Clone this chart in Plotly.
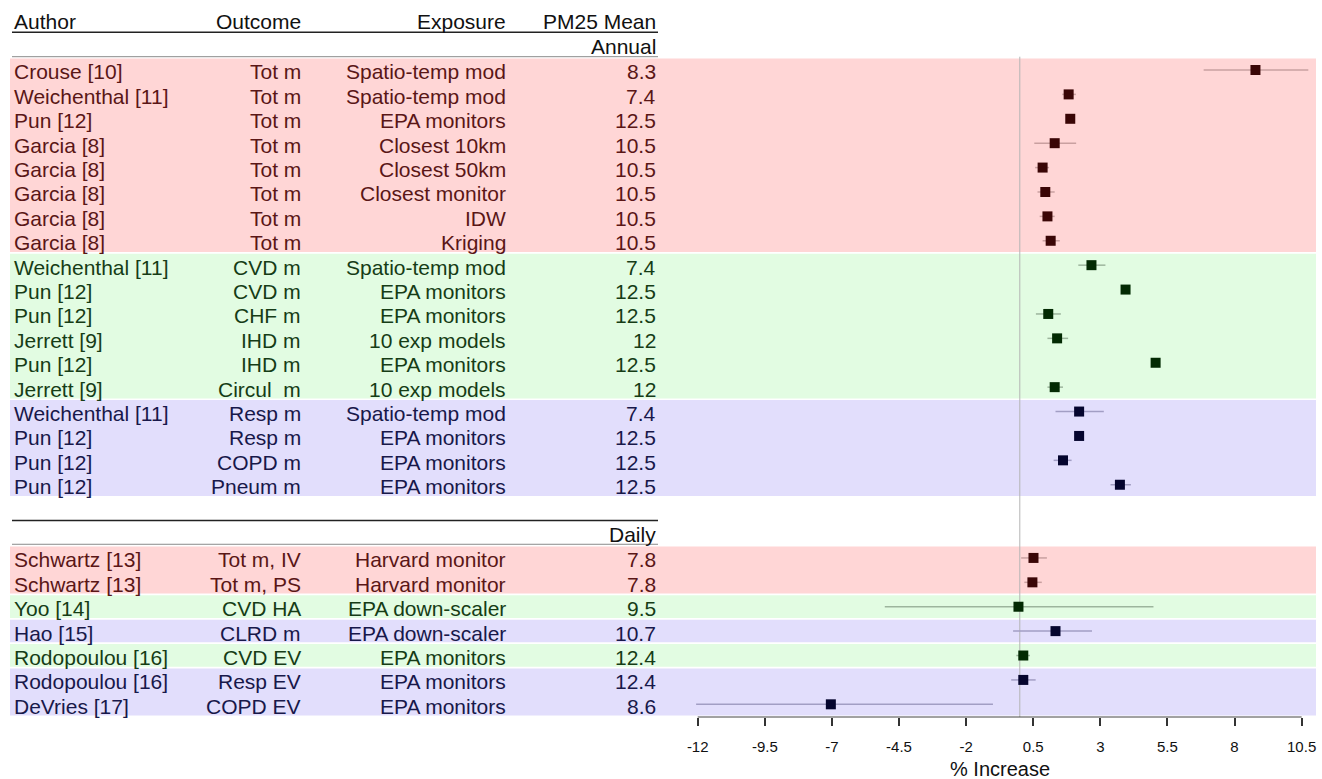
import plotly.graph_objects as go

# ---------------- data ----------------
authors = ["Crouse [10]", "Weichenthal [11]", "Pun [12]", "Garcia [8]", "Garcia [8]", "Garcia [8]",
           "Garcia [8]", "Garcia [8]", "Weichenthal [11]", "Pun [12]", "Pun [12]", "Jerrett [9]",
           "Pun [12]", "Jerrett [9]", "Weichenthal [11]", "Pun [12]", "Pun [12]", "Pun [12]",
           "Schwartz [13]", "Schwartz [13]", "Yoo [14]", "Hao [15]", "Rodopoulou [16]",
           "Rodopoulou [16]", "DeVries [17]"]
outcomes = ["Tot m", "Tot m", "Tot m", "Tot m", "Tot m", "Tot m", "Tot m", "Tot m",
            "CVD m", "CVD m", "CHF m", "IHD m", "IHD m", "Circul\u00a0 m",
            "Resp m", "Resp m", "COPD m", "Pneum m",
            "Tot m, IV", "Tot m, PS", "CVD HA", "CLRD m", "CVD EV", "Resp EV", "COPD EV"]
exposures = ["Spatio-temp mod", "Spatio-temp mod", "EPA monitors", "Closest 10km", "Closest 50km",
             "Closest monitor", "IDW", "Kriging", "Spatio-temp mod", "EPA monitors", "EPA monitors",
             "10 exp models", "EPA monitors", "10 exp models", "Spatio-temp mod", "EPA monitors",
             "EPA monitors", "EPA monitors", "Harvard monitor", "Harvard monitor",
             "EPA down-scaler", "EPA down-scaler", "EPA monitors", "EPA monitors", "EPA monitors"]
pm_means = ["8.3", "7.4", "12.5", "10.5", "10.5", "10.5", "10.5", "10.5", "7.4", "12.5", "12.5",
            "12", "12.5", "12", "7.4", "12.5", "12.5", "12.5", "7.8", "7.8", "9.5", "10.7",
            "12.4", "12.4", "8.6"]
groups = ["tot"] * 8 + ["cvd"] * 6 + ["resp"] * 4 + ["tot", "tot", "cvd", "resp", "cvd", "resp", "resp"]
periods = ["Annual"] * 18 + ["Daily"] * 7
estimate = [8.78, 1.82, 1.88, 1.30, 0.85, 0.95, 1.03, 1.15, 2.67, 3.94, 1.06, 1.39, 5.06, 1.30,
            2.21, 2.21, 1.61, 3.73, 0.51, 0.47, -0.05, 1.33, 0.13, 0.13, -7.04]
ci_low = [6.85, 1.58, 1.77, 0.54, 0.57, 0.66, 0.74, 0.85, 2.18, 3.85, 0.60, 1.03, 4.98, 1.03,
          1.33, 2.10, 1.26, 3.38, 0.05, 0.17, -5.03, -0.25, -0.13, -0.32, -12.06]
ci_high = [10.75, 2.09, 2.01, 2.10, 1.09, 1.30, 1.30, 1.49, 3.19, 4.05, 1.53, 1.80, 5.15, 1.61,
           3.13, 2.32, 1.93, 4.14, 1.01, 0.82, 4.98, 2.69, 0.38, 0.59, -1.00]
tick_values = [-12, -9.5, -7, -4.5, -2, 0.5, 3, 5.5, 8, 10.5]
tick_labels = ["-12", "-9.5", "-7", "-4.5", "-2", "0.5", "3", "5.5", "8", "10.5"]
headers = ["Author", "Outcome", "Exposure", "PM25 Mean"]

# ---------------- styling ----------------
W, H = 1322, 779
FONT = "Liberation Sans, Arial, sans-serif"
FS = 21
band_col = {"tot": "#FFD6D6", "cvd": "#E2FCE2", "resp": "#E2DEFC"}
text_col = {"tot": "#5A1616", "cvd": "#163C16", "resp": "#18184A"}
mark_col = {"tot": "#3A0606", "cvd": "#032A03", "resp": "#05052E"}
ci_col = {"tot": "#C9A0A0", "cvd": "#9DB59D", "resp": "#A29EC4"}

# row positions: annual rows, then a gap for the "Daily" header
rows = []
r = 0
prev = periods[0]
for p in periods:
    if p != prev:
        r += 2
        prev = p
    rows.append(r)
    r += 1


def px(xpix):
    return xpix / W


fig = go.Figure()

# colour bands (runs of the same group within a period)
shapes = []
i = 0
n = len(rows)
while i < n:
    j = i
    while j + 1 < n and groups[j + 1] == groups[i] and periods[j + 1] == periods[i]:
        j += 1
    shapes.append(dict(type="rect", xref="paper", yref="y", x0=px(10), x1=px(1316),
                       y0=rows[i] - 0.47, y1=rows[j] + 0.46, fillcolor=band_col[groups[i]],
                       line=dict(width=0), layer="below"))
    i = j + 1

y_top, y_bot = -2.869, 26.52
annual_line = -0.545
daily_start = rows[periods.index("Daily")]
# header / separator lines
shapes += [
    dict(type="line", xref="paper", yref="y", x0=px(12), x1=px(658), y0=-1.545, y1=-1.545,
         line=dict(color="#222222", width=1.5)),
    dict(type="line", xref="paper", yref="y", x0=px(12), x1=px(658), y0=annual_line, y1=annual_line,
         line=dict(color="#8a8a8a", width=1)),
    dict(type="line", xref="paper", yref="y", x0=px(12), x1=px(658), y0=daily_start - 1.53,
         y1=daily_start - 1.53, line=dict(color="#222222", width=1.5)),
    dict(type="line", xref="paper", yref="y", x0=px(12), x1=px(658), y0=daily_start - 0.56,
         y1=daily_start - 0.56, line=dict(color="#8a8a8a", width=1)),
    # reference line at zero
    dict(type="line", xref="x", yref="y", x0=0, x1=0, y0=annual_line, y1=y_bot,
         line=dict(color="#b4b4b4", width=1), layer="below"),
    # axis line spanning the ticks
    dict(type="line", xref="x", yref="paper", x0=tick_values[0], x1=tick_values[-1], y0=0, y1=0,
         line=dict(color="#444444", width=1)),
]

# points with confidence intervals
for g in ["tot", "cvd", "resp"]:
    idx = [k for k in range(n) if groups[k] == g]
    fig.add_trace(go.Scatter(
        x=[estimate[k] for k in idx], y=[rows[k] for k in idx], mode="markers",
        marker=dict(symbol="square", size=10, color=mark_col[g], line=dict(width=0)),
        error_x=dict(type="data", symmetric=False,
                     array=[ci_high[k] - estimate[k] for k in idx],
                     arrayminus=[estimate[k] - ci_low[k] for k in idx],
                     color=ci_col[g], thickness=1.5, width=0),
        showlegend=False, hoverinfo="skip"))

# text table
ann = []
col_x = [12, 303, 508, 658]
col_anchor = ["left", "right", "right", "right"]
for k in range(n):
    vals = [authors[k], outcomes[k], exposures[k], pm_means[k]]
    for c in range(4):
        ann.append(dict(xref="paper", yref="y", x=px(col_x[c]), y=rows[k] + 0.08,
                        text=vals[c], showarrow=False, xanchor=col_anchor[c], yanchor="middle",
                        font=dict(family=FONT, size=FS, color=text_col[groups[k]])))
for c in range(4):
    ann.append(dict(xref="paper", yref="y", x=px(col_x[c]), y=-1.98, text=headers[c],
                    showarrow=False, xanchor=col_anchor[c], yanchor="middle",
                    font=dict(family=FONT, size=FS, color="#111111")))
ann.append(dict(xref="paper", yref="y", x=px(658), y=-0.98, text="Annual", showarrow=False,
                xanchor="right", yanchor="middle", font=dict(family=FONT, size=FS, color="#111111")))
ann.append(dict(xref="paper", yref="y", x=px(658), y=daily_start - 0.98, text="Daily", showarrow=False,
                xanchor="right", yanchor="middle", font=dict(family=FONT, size=FS, color="#111111")))
ann.append(dict(xref="paper", yref="paper", x=px(1000), y=0, yshift=-52, text="% Increase",
                showarrow=False, xanchor="center", yanchor="middle",
                font=dict(family=FONT, size=20, color="#111111")))

x0_val = -1019.8 / 26.84
x1_val = (W - 1019.8) / 26.84

fig.update_layout(
    width=W, height=H,
    margin=dict(l=0, r=0, t=0, b=62, pad=0),
    paper_bgcolor="white", plot_bgcolor="white",
    shapes=shapes, annotations=ann,
    xaxis=dict(range=[x0_val, x1_val], tickvals=tick_values, ticktext=tick_labels,
               ticks="outside", ticklen=8, tickwidth=1.5, tickcolor="#333333",
               showgrid=False, zeroline=False, showline=False, ticklabelstandoff=8,
               tickfont=dict(family=FONT, size=15, color="#111111"), fixedrange=True),
    yaxis=dict(range=[y_bot, y_top], showgrid=False, zeroline=False, showline=False,
               showticklabels=False, ticks="", fixedrange=True),
    showlegend=False,
)

fig.write_html("out.html", config={"displayModeBar": False},
               post_script="document.body.style.margin='0px';")
